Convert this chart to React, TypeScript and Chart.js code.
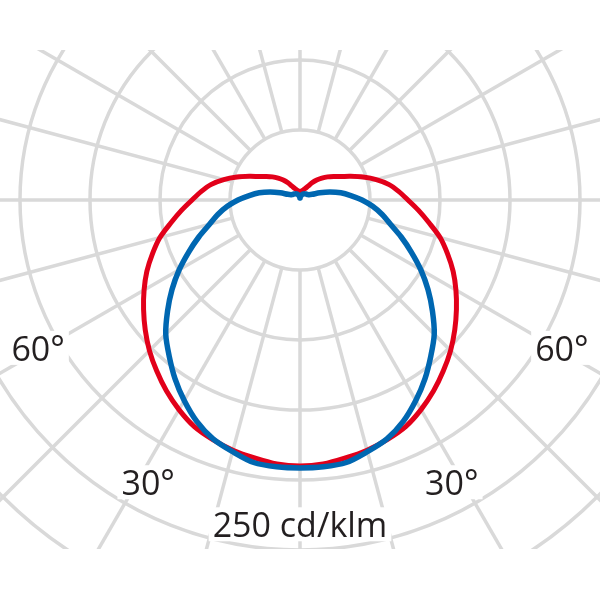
import React, { useEffect, useRef } from "react";
import { Chart, registerables } from "chart.js";

Chart.register(...registerables);

// Gamma angles (degrees from nadir) for the luminous intensity tables
const gammaAngles = [
  0, 5, 10, 15, 20, 25, 30, 35, 40, 45, 50, 55, 60, 65, 70, 75, 80, 85, 90,
  95, 100, 105, 110, 115, 120, 125, 130, 135, 140, 145, 150, 155, 160, 165,
  170, 175, 180,
];

// C0–C180 plane (red), cd/klm
const planeC0C180 = [
  190, 189.3, 187.1, 185, 182.1, 178.6, 172.9, 166.4, 159.3, 152.1, 144.3,
  136.4, 128.6, 120.7, 112.1, 103.6, 93.6, 85, 77.1, 70.7, 64.3, 56.4, 47.9,
  40, 33.6, 29.3, 25.7, 22.1, 18.6, 15, 11.4, 9.3, 7.9, 7.1, 6.4, 5.7, 5.7,
];

// C90–C270 plane (blue), cd/klm
const planeC90C270 = [
  191.4, 191.3, 190.4, 186.1, 181.6, 174.5, 165.4, 155.7, 145.4, 135.6, 123.5,
  111.6, 99.6, 87.6, 76.8, 66.9, 59.6, 52.1, 44.3, 36.4, 29.6, 22.1, 15, 9.6,
  7.5, 6.8, 6.4, 6.1, 5.7, 5.4, 5, 4.6, 3.9, 3.6, 2.9, 2.1, 1.4,
];

// Polar grid
const ringValues = [50, 100, 150, 200, 250, 300];
const spokeAngles = Array.from({ length: 24 }, (_, i) => i * 15);

// Texts
const angleLabelValues = [30, 60];
const unitLabel = "250 cd/klm";

function toCartesian(values: number[]) {
  const pts: { x: number; y: number }[] = [];
  // left half: 180 -> 0
  for (let i = gammaAngles.length - 1; i >= 0; i--) {
    const g = (gammaAngles[i] * Math.PI) / 180;
    pts.push({ x: -values[i] * Math.sin(g), y: -values[i] * Math.cos(g) });
  }
  // right half: 5 -> 180
  for (let i = 1; i < gammaAngles.length; i++) {
    const g = (gammaAngles[i] * Math.PI) / 180;
    pts.push({ x: values[i] * Math.sin(g), y: -values[i] * Math.cos(g) });
  }
  return pts;
}

const GRID_COLOR = "#d9d9d9";
const TEXT_COLOR = "#231f20";
const FONT = "34px 'Open Sans', 'Noto Sans', sans-serif";

const polarGridPlugin = {
  id: "polarGrid",
  beforeDatasetsDraw(chart: any) {
    const { ctx } = chart;
    const xs = chart.scales.x;
    const ys = chart.scales.y;
    const cx = xs.getPixelForValue(0);
    const cy = ys.getPixelForValue(0);
    const k = xs.getPixelForValue(1) - cx;

    ctx.save();
    ctx.beginPath();
    ctx.rect(0, 50, chart.width, 499);
    ctx.clip();

    ctx.strokeStyle = GRID_COLOR;
    ctx.lineWidth = 3.5;
    for (const r of ringValues) {
      ctx.beginPath();
      ctx.arc(cx, cy, r * k, 0, Math.PI * 2);
      ctx.stroke();
    }
    const r0 = ringValues[0] * k;
    const r1 = 600;
    for (const a of spokeAngles) {
      const t = (a * Math.PI) / 180;
      ctx.beginPath();
      ctx.moveTo(cx + Math.sin(t) * r0, cy + Math.cos(t) * r0);
      ctx.lineTo(cx + Math.sin(t) * r1, cy + Math.cos(t) * r1);
      ctx.stroke();
    }

    // labels with white knock-out boxes
    ctx.font = FONT;
    ctx.textAlign = "center";
    ctx.textBaseline = "middle";
    const drawLabel = (text: string, px: number, py: number) => {
      const m = ctx.measureText(text);
      const w = m.width;
      const asc = m.actualBoundingBoxAscent;
      const desc = m.actualBoundingBoxDescent;
      ctx.fillStyle = "#ffffff";
      ctx.fillRect(px - w / 2 - 4, py - asc - 4, w + 8, asc + desc + 8);
      ctx.fillStyle = TEXT_COLOR;
      ctx.fillText(text, px, py);
    };
    const labelRadius: Record<number, number> = { 30: 231, 60: 216 };
    const labelAngle: Record<number, number> = { 30: 28, 60: 60 };
    for (const v of angleLabelValues) {
      const t = (labelAngle[v] * Math.PI) / 180;
      const R = labelRadius[v] * k;
      drawLabel(v + "°", cx - Math.sin(t) * R, cy + Math.cos(t) * R);
      drawLabel(v + "°", cx + Math.sin(t) * R, cy + Math.cos(t) * R);
    }
    drawLabel(unitLabel, cx, cy + 234 * k);

    ctx.restore();
  },
};

export default function App() {
  const canvasRef = useRef<HTMLCanvasElement | null>(null);

  useEffect(() => {
    const canvas = canvasRef.current;
    if (!canvas) return;
    const pxPerUnit = 1.4;
    const chart = new Chart(canvas, {
      type: "scatter",
      data: {
        datasets: [
          {
            label: "C0-C180",
            data: toCartesian(planeC0C180),
            showLine: true,
            borderColor: "#e2001a",
            backgroundColor: "#e2001a",
            borderWidth: 5,
            pointRadius: 0,
            tension: 0.3,
            borderJoinStyle: "round",
            borderCapStyle: "round",
            order: 2,
          },
          {
            label: "C90-C270",
            data: toCartesian(planeC90C270),
            showLine: true,
            borderColor: "#0067b1",
            backgroundColor: "#0067b1",
            borderWidth: 5.5,
            pointRadius: 0,
            tension: 0.3,
            borderJoinStyle: "round",
            borderCapStyle: "round",
            order: 1,
          },
        ],
      },
      options: {
        responsive: false,
        animation: false,
        layout: { padding: 0 },
        plugins: {
          legend: { display: false },
          tooltip: { enabled: false },
        },
        scales: {
          x: {
            type: "linear",
            display: false,
            min: -300 / pxPerUnit,
            max: 300 / pxPerUnit,
          },
          y: {
            type: "linear",
            display: false,
            min: -400 / pxPerUnit,
            max: 200 / pxPerUnit,
          },
        },
      },
      plugins: [polarGridPlugin],
    });
    return () => chart.destroy();
  }, []);

  return (
    <div
      style={{
        position: "fixed",
        left: 0,
        top: 0,
        width: 600,
        height: 600,
        background: "#ffffff",
      }}
    >
      <canvas ref={canvasRef} width={600} height={600} style={{ display: "block" }} />
    </div>
  );
}
